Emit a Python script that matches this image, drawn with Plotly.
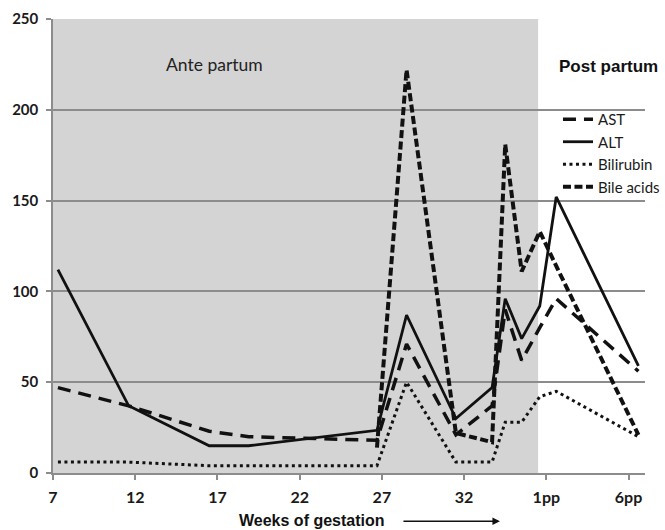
import plotly.graph_objects as go

weeks = [7.3, 11.6, 16.5, 18.9, 26.7, 28.5, 31.5, 33.7, 34.5, 35.5, 36.6, 37.6, 42.6]
ast = [47, 37, 23, 20, 18, 71, 21, 37, 90, 62, 80, 96, 56]
alt = [112, 37, 15, 15, 23.5, 87, 30, 47, 96, 74, 92, 152, 59]
bilirubin = [6, 6, 4, 4, 4, 50, 6, 6, 28, 28, 42, 45, 20]
bile_acids = [None, None, None, None, 14, 222, 22, 17, 181, 111, 133, 114, 21]

tick_vals = [7, 12, 17, 22, 27, 32, 37, 42]
tick_text = ["7", "12", "17", "22", "27", "32", "1pp", "6pp"]
y_ticks = [0, 50, 100, 150, 200, 250]
ante_end = 36.5

fig = go.Figure()
series = [
    ("AST", ast, dict(color="#111", width=3.5, dash="13px,8px")),
    ("ALT", alt, dict(color="#111", width=2.8)),
    ("Bilirubin", bilirubin, dict(color="#111", width=3, dash="3px,3.5px")),
    ("Bile acids", bile_acids, dict(color="#111", width=4, dash="8px,3.5px")),
]
for name, vals, line in series:
    fig.add_trace(go.Scatter(x=weeks, y=vals, name=name, mode="lines", line=line,
                             legendgroup=name, hoverinfo="skip"))

fig.add_shape(type="rect", xref="x", yref="y", x0=7, x1=ante_end, y0=0, y1=250,
              fillcolor="#d4d4d4", line_width=0, layer="below")

fig.add_annotation(x=16.85, y=225, xref="x", yref="y", text="Ante partum", showarrow=False,
                   font=dict(family="Lato", size=17.5, color="#222"))
fig.add_annotation(x=40.8, y=224, xref="x", yref="y", text="<b>Post partum</b>", showarrow=False,
                   font=dict(family="Liberation Sans", size=17, color="#111"))
fig.add_annotation(x=0.4375, y=-0.104, xref="paper", yref="paper", text="<b>Weeks of gestation</b>",
                   xanchor="center", yanchor="middle",
                   showarrow=False, font=dict(family="Liberation Sans", size=16, color="#111"))
fig.add_annotation(x=0.755, y=-0.1065, xref="paper", yref="paper", text="", showarrow=True,
                   ax=-98, ay=0, arrowhead=2, arrowwidth=1.5, arrowsize=1, arrowcolor="#111")

fig.update_layout(
    width=665, height=530,
    margin=dict(l=53, r=20, t=19, b=57.3, autoexpand=False),
    plot_bgcolor="white", paper_bgcolor="white",
    font=dict(family="Lato", color="#1a1a1a"),
    legend=dict(x=0.853, y=0.815, xanchor="left", yanchor="top", bgcolor="rgba(0,0,0,0)",
                font=dict(family="Lato", size=15, color="#1a1a1a"), tracegroupgap=0),
    xaxis=dict(range=[7, 43], tickvals=tick_vals, ticktext=tick_text, showgrid=False,
               showline=True, linecolor="#8c8c8c", linewidth=1.5, ticks="outside", ticklen=5,
               tickcolor="#8c8c8c", tickwidth=1.5, automargin=False, ticklabelstandoff=4,
               tickfont=dict(family="Lato", size=16, color="#1a1a1a", weight="bold"), zeroline=False),
    yaxis=dict(range=[0, 250], tickvals=y_ticks, showgrid=True, gridcolor="#8c8c8c", gridwidth=1.5,
               showline=True, linecolor="#8c8c8c", linewidth=1.5, ticks="outside", ticklen=5,
               tickcolor="#8c8c8c", tickwidth=1.5, zeroline=False, automargin=False,
               ticklabelstandoff=5,
               tickfont=dict(family="Lato", size=15, color="#1a1a1a", weight="bold")),
    showlegend=True,
)

fig.write_html("out.html", config={"displayModeBar": False},
               post_script="document.body.style.margin='0';document.body.style.overflow='hidden';")
